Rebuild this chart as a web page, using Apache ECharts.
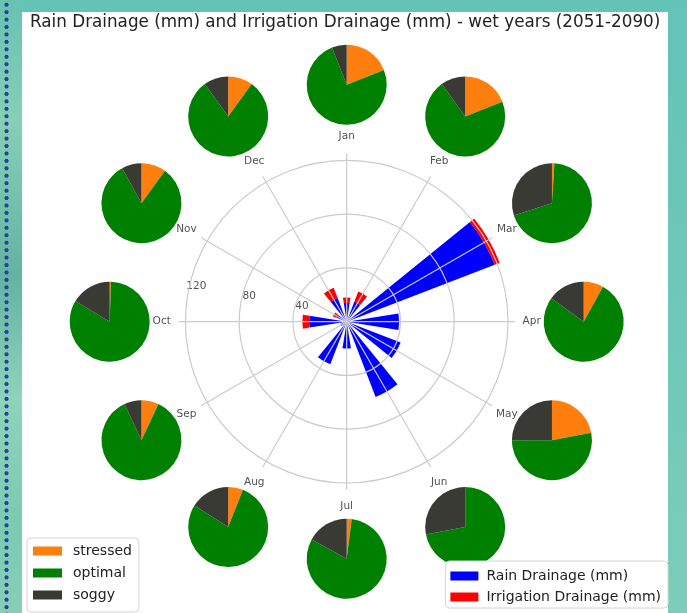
<!DOCTYPE html>
<html>
<head>
<meta charset="utf-8">
<script src="https://cdn.jsdelivr.net/npm/echarts@6/dist/echarts.min.js"></script>
<style>
  html, body { margin: 0; padding: 0; width: 687px; height: 613px; overflow: hidden; }
  body { position: relative; background: linear-gradient(180deg, #63c3b7 0%, #6cc7b8 40%, #7ccdb9 100%); }
  #strip { position: absolute; left: 0; top: 0; width: 22px; height: 613px;
    background: linear-gradient(180deg, #68c2b2 0%, #86cfb6 20%, #63b3a3 45%, #8ed3ba 65%, #7ccab2 85%, #86cfb6 100%); }
  #dots { position: absolute; left: 2px; top: 1px; width: 9px; height: 612px;
    background-image: radial-gradient(circle at 4.5px 3.7px, #22449a 1.8px, rgba(34,68,154,0) 2.4px);
    background-size: 9px 7.45px; }
  #panel { position: absolute; left: 22px; top: 12px; width: 646px; height: 601px; background: #ffffff; }
  #chart { position: absolute; left: 0; top: 0; width: 687px; height: 613px; }
</style>
</head>
<body>
<div id="strip"></div>
<div id="dots"></div>
<div id="panel"></div>
<div id="chart"></div>
<script>
// Monthly drainage (mm), wet years 2051-2090
const months = ['Jan', 'Feb', 'Mar', 'Apr', 'May', 'Jun', 'Jul', 'Aug', 'Sep', 'Oct', 'Nov', 'Dec'];
const rainDrainage       = [14, 16, 118, 39, 43, 60, 20, 34, 5, 28, 8, 19];
const irrigationDrainage = [ 4,  8,   4,  0,  0,  0,  0,  0, 0,  5, 3,  8];

// Share of days per crop water status (%)
const stressed = [19, 19,  1,  8, 22,  0,  2,  6,  7, 0.5, 10, 10];
const optimal  = [75, 71, 69, 77, 53, 72, 81, 78, 86, 83.1, 82, 80];
const soggy    = [ 6, 10, 30, 15, 25, 28, 17, 16,  7, 16.4,  8, 10];

// Radial axis
const radialTicks = [40, 80, 120];
const radialMax = 125;

const FONT = 'DejaVu Sans';
const statusColors = { stressed: '#ff7f0e', optimal: '#008000', soggy: '#3a3a35' };
const gridColor = '#cbcbcb';

// layout of the polar plot and the ring of pies
const cx = 346.7, cy = 321.7;
const plotRadius = 168;
const labelRadius = 185;
const pieRing = 237;
const pieRadius = 40;
const barAngle = 18;           // bar width in degrees
const lastTick = radialTicks[radialTicks.length - 1];
const tickInterval = radialTicks[1] - radialTicks[0];

const chart = echarts.init(document.getElementById('chart'), null, { renderer: 'canvas' });

const pieSeries = months.map((m, i) => {
  const a = i * Math.PI / 6;
  return {
    type: 'pie',
    name: m,
    center: [cx + pieRing * Math.sin(a), cy - pieRing * Math.cos(a)],
    radius: [0, pieRadius],
    startAngle: 90,
    clockwise: true,
    padAngle: 0,
    silent: true,
    avoidLabelOverlap: false,
    label: { show: false },
    labelLine: { show: false },
    emphasis: { disabled: true },
    itemStyle: { borderWidth: 0 },
    data: [
      { name: 'stressed', value: stressed[i], itemStyle: { color: statusColors.stressed } },
      { name: 'optimal', value: optimal[i], itemStyle: { color: statusColors.optimal } },
      { name: 'soggy', value: soggy[i], itemStyle: { color: statusColors.soggy } }
    ]
  };
});

const hidden = { axisLine: { show: false }, axisTick: { show: false }, axisLabel: { show: false } };

const option = {
  animation: false,
  backgroundColor: 'transparent',
  title: {
    text: 'Rain Drainage (mm) and Irrigation Drainage (mm) - wet years (2051-2090)',
    left: 30, top: 14, padding: 0,
    textStyle: { fontFamily: FONT, fontSize: 16.8, fontWeight: 'normal', color: '#222' }
  },
  legend: [
    {
      data: ['stressed', 'optimal', 'soggy'],
      orient: 'vertical', left: 27, top: 538,
      icon: 'rect', itemWidth: 29, itemHeight: 9, itemGap: 8,
      backgroundColor: '#fff', borderColor: '#d4d4d4', borderWidth: 1, borderRadius: 4,
      padding: [6, 7, 10, 6],
      textStyle: { fontFamily: FONT, fontSize: 14, color: '#222', padding: [0, 0, 0, 6] },
      selectedMode: false
    },
    {
      data: ['Rain Drainage (mm)', 'Irrigation Drainage (mm)'],
      orient: 'vertical', right: 19, top: 561,
      icon: 'rect', itemWidth: 28, itemHeight: 9, itemGap: 7,
      backgroundColor: '#fff', borderColor: '#d4d4d4', borderWidth: 1, borderRadius: 4,
      padding: [8, 7, 4, 5],
      textStyle: { fontFamily: FONT, fontSize: 14, color: '#222', padding: [0, 0, 0, 3] },
      selectedMode: false
    }
  ],
  polar: [
    { center: [cx, cy], radius: plotRadius },                               // bars + spokes
    { center: [cx, cy], radius: labelRadius },                              // month names
    { center: [cx, cy], radius: plotRadius * lastTick / radialMax }         // rings + ring labels
  ],
  angleAxis: [
    Object.assign({
      polarIndex: 0, type: 'category', data: months, boundaryGap: false,
      startAngle: 90, clockwise: true, z: 3,
      splitLine: { show: true, lineStyle: { color: gridColor, width: 1.2 } }
    }, hidden),
    Object.assign({
      polarIndex: 1, type: 'category', data: months, boundaryGap: false,
      startAngle: 90, clockwise: true, splitLine: { show: false }
    }, hidden),
    Object.assign({
      polarIndex: 2, type: 'value', min: 0, max: 360,
      startAngle: 90, clockwise: true, splitLine: { show: false }
    }, hidden)
  ],
  radiusAxis: [
    Object.assign({
      polarIndex: 0, type: 'value', min: 0, max: radialMax, splitLine: { show: false }
    }, hidden),
    Object.assign({
      polarIndex: 1, type: 'value', min: 0, max: 1, splitLine: { show: false }
    }, hidden),
    Object.assign({
      polarIndex: 2, type: 'value', min: 0, max: lastTick, interval: tickInterval, z: 3,
      splitLine: { show: true, lineStyle: { color: gridColor, width: 1.2 } }
    }, hidden)
  ],
  series: [
    {
      type: 'bar', name: 'Rain Drainage (mm)', coordinateSystem: 'polar', polarIndex: 0,
      stack: 'drainage', barWidth: barAngle, data: rainDrainage,
      itemStyle: { color: '#0000ff' }, silent: true
    },
    {
      type: 'bar', name: 'Irrigation Drainage (mm)', coordinateSystem: 'polar', polarIndex: 0,
      stack: 'drainage', barWidth: barAngle, data: irrigationDrainage,
      itemStyle: { color: '#ff0000' }, silent: true
    },
    {
      type: 'scatter', coordinateSystem: 'polar', polarIndex: 1, silent: true,
      symbolSize: 0,
      data: months.map((m, i) => [1, i]),
      label: {
        show: true, position: 'inside',
        formatter: p => months[p.value[1]],
        fontFamily: FONT, fontSize: 10.5, color: '#262626'
      }
    },
    {
      type: 'scatter', coordinateSystem: 'polar', polarIndex: 2, silent: true,
      symbolSize: 0,
      data: radialTicks.map(v => [v, 281]),
      label: {
        show: true, position: 'inside', offset: [8, -5],
        formatter: p => String(p.value[0]),
        fontFamily: FONT, fontSize: 10.5, color: '#262626'
      }
    }
  ].concat(pieSeries)
};

chart.setOption(option);
</script>
</body>
</html>
